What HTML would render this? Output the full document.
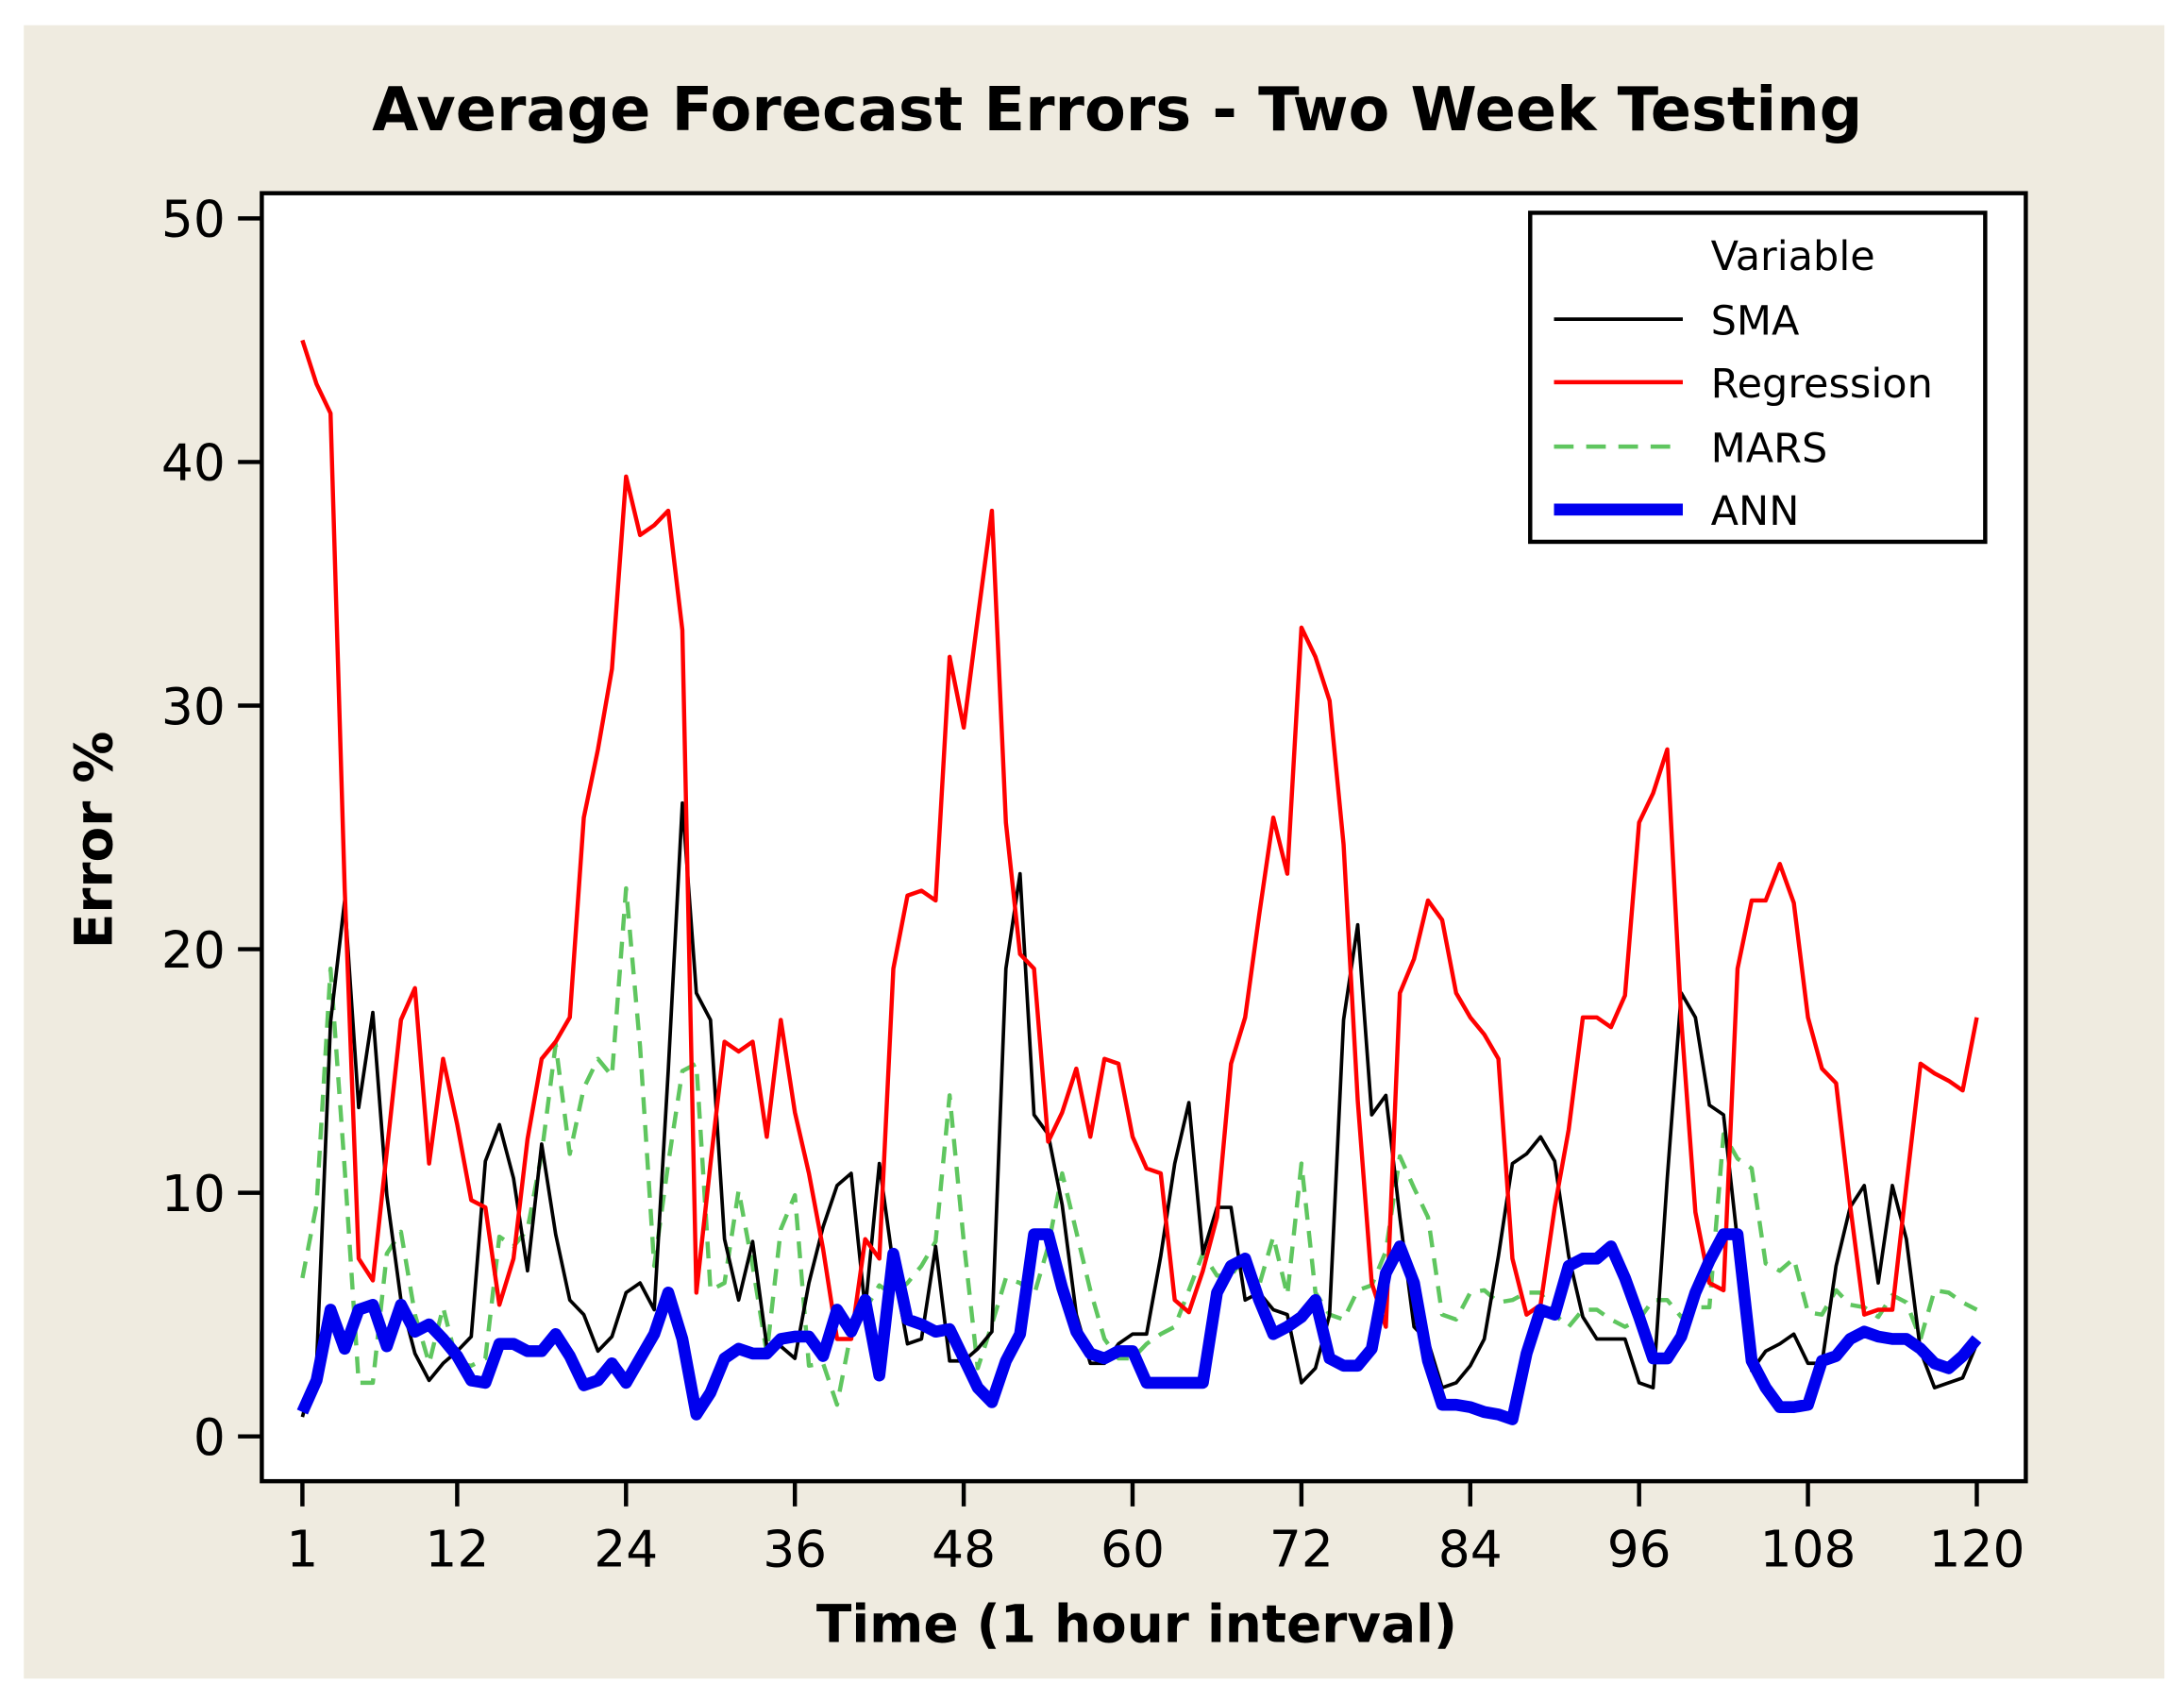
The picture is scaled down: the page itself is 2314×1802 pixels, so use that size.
<!DOCTYPE html>
<html><head><meta charset="utf-8"><style>
html,body{margin:0;padding:0;background:#fff;}
svg{display:block;}
text{font-family:"DejaVu Sans","Liberation Sans",sans-serif;fill:#000;}
</style></head><body>
<svg id="chart" width="2314" height="1802" viewBox="0 0 1560 1215" preserveAspectRatio="none" xmlns="http://www.w3.org/2000/svg">
<rect x="17" y="18" width="1529" height="1181" fill="#efebe0"/>
<text x="798" y="93" font-size="43" font-weight="bold" text-anchor="middle">Average Forecast Errors - Two Week Testing</text>
<rect x="187" y="138" width="1260" height="920" fill="#fff" stroke="#000" stroke-width="3"/>
<g id="yaxis"></g>
<g id="xaxis"></g>
<g id="series"></g>
<text transform="translate(80,600) rotate(-90)" font-size="37" font-weight="bold" text-anchor="middle">Error %</text>
<text x="812" y="1173" font-size="37" font-weight="bold" text-anchor="middle">Time (1 hour interval)</text>
<g>
<rect x="1093" y="152" width="325" height="235" fill="#fff" stroke="#000" stroke-width="3"/>
<text x="1222" y="193" font-size="29">Variable</text>
<line x1="1110" y1="228" x2="1202" y2="228" stroke="#000" stroke-width="2.5"/>
<text x="1222" y="239" font-size="29">SMA</text>
<line x1="1110" y1="273" x2="1202" y2="273" stroke="#f00" stroke-width="3"/>
<text x="1222" y="284" font-size="29">Regression</text>
<line x1="1110" y1="319" x2="1202" y2="319" stroke="#5fc65f" stroke-width="3" stroke-dasharray="14,9"/>
<text x="1222" y="330" font-size="29">MARS</text>
<line x1="1110" y1="364" x2="1202" y2="364" stroke="#0000ee" stroke-width="8.5"/>
<text x="1222" y="375" font-size="29">ANN</text>
</g>
</svg>
<script>
const yTicks=[0,10,20,30,40,50];
const xTicks=[1,12,24,36,48,60,72,84,96,108,120];
const sma=[0.8,2.9,17,22,13.5,17.4,9.9,5.6,3.4,2.3,3,3.5,4.1,11.3,12.8,10.6,6.8,12,8.3,5.6,5,3.5,4.1,5.9,6.3,5.2,15,26,18.2,17.1,8.1,5.6,8,3.7,3.7,3.2,6.3,8.6,10.3,10.8,5.2,11.2,7,3.8,4,7.8,3.1,3.1,3.6,4.3,19.2,23.1,13.2,12.4,9.5,5,3,3,3.8,4.2,4.2,7.4,11.2,13.7,7.5,9.4,9.4,5.6,5.9,5.2,5,2.2,2.8,5,17.1,21,13.2,14,9,4.5,3.9,2,2.2,2.9,4,7.4,11.2,11.6,12.3,11.3,7.4,4.9,4,4,4,2.2,2,10.6,18.2,17.2,13.6,13.2,8,2.7,3.5,3.8,4.2,3,3,7,9.4,10.3,6.3,10.3,8.1,3.5,2,2.2,2.4,3.8];
const regression=[45,43.2,42,22.5,7.3,6.4,11.7,17.1,18.4,11.2,15.5,12.8,9.7,9.4,5.4,7.3,12.2,15.5,16.2,17.2,25.4,28.2,31.5,39.4,37,37.4,38,33.1,5.9,11.2,16.2,15.8,16.2,12.3,17.1,13.3,10.8,7.7,4,4,8.1,7.3,19.2,22.2,22.4,22,32,29.1,33.6,38,25.2,19.8,19.2,12.1,13.3,15.1,12.3,15.5,15.3,12.3,11,10.8,5.6,5.1,6.8,9,15.3,17.2,21.4,25.4,23.1,33.2,32,30.2,24.3,13.8,6.3,4.5,18.2,19.6,22,21.2,18.2,17.2,16.5,15.5,7.3,5,5.4,9.4,12.6,17.2,17.2,16.8,18.1,25.2,26.4,28.2,17.1,9.2,6.3,6,19.2,22,22,23.5,21.9,17.2,15.1,14.5,9.5,5,5.2,5.2,10.3,15.3,14.9,14.6,14.2,17.2];
const mars=[6.5,9.5,19.2,11,2.2,2.2,7.5,8.4,5,3,5.3,3,2.9,3.2,8.2,7.8,8.5,11.6,16.1,11.6,14.3,15.5,14.8,22.5,16,7,11.2,15,15.3,6,6.3,10.1,7,3.4,8.5,9.9,2.9,3,1.3,4.3,5.2,6.2,5.8,6.3,7,8,14,8,2.8,4.6,6.5,6.3,5.8,7.8,10.8,8.4,6,4,3.2,3.2,3.8,4.2,4.5,6,7.5,6.6,6.6,7.4,6.2,8.2,5.8,11.2,5.9,5,4.8,6,6.2,7.6,11.5,10.2,9,5,4.8,5.9,6,5.5,5.6,5.9,5.9,5,4.5,5.2,5.2,4.8,4.5,4.8,5.6,5.6,4.9,5.3,5.3,12.4,11.4,11,7.1,6.8,7.3,5.1,5,6,5.4,5.3,4.9,5.8,5.5,4,6,5.9,5.5,5.2];
const ann=[1,2.3,5.2,3.6,5.2,5.4,3.7,5.4,4.3,4.6,4,3.3,2.3,2.2,3.8,3.8,3.5,3.5,4.2,3.3,2.1,2.3,3,2.2,3.2,4.2,5.9,4,0.9,1.8,3.2,3.6,3.4,3.4,4,4.1,4.1,3.3,5.2,4.3,5.6,2.5,7.5,4.8,4.6,4.3,4.4,3.2,2,1.4,3.1,4.2,8.3,8.3,6.1,4.3,3.4,3.2,3.5,3.5,2.2,2.2,2.2,2.2,2.2,5.9,7,7.3,5.6,4.2,4.5,4.9,5.6,3.2,2.9,2.9,3.6,6.7,7.8,6.3,3.1,1.3,1.3,1.2,1,0.9,0.7,3.4,5.2,5,7,7.3,7.3,7.8,6.5,4.9,3.2,3.2,4.1,5.9,7.2,8.3,8.3,3.1,2,1.2,1.2,1.3,3.1,3.3,4,4.3,4.1,4,4,3.6,3,2.8,3.3,4];

const NS="http://www.w3.org/2000/svg";
function xScale(t){return 216+(t-1)*(1412-216)/119;}
function yScale(v){return 1026-v*(1026-156)/50;}
function mk(tag,attrs,parent){const e=document.createElementNS(NS,tag);for(const k in attrs)e.setAttribute(k,attrs[k]);parent.appendChild(e);return e;}
const ya=document.getElementById('yaxis'),xa=document.getElementById('xaxis'),sg=document.getElementById('series');
yTicks.forEach(v=>{
  const l=mk('line',{x1:170,x2:187,y1:yScale(v),y2:yScale(v),stroke:'#000','stroke-width':3},ya);
  
  
  const t=mk('text',{x:161,y:yScale(v)+13,'font-size':36,'text-anchor':'end'},ya);
  t.textContent=v;
  
  
});
xTicks.forEach(v=>{
  const l=mk('line',{x1:xScale(v),x2:xScale(v),y1:1058,y2:1076,stroke:'#000','stroke-width':3},xa);
  
  
  const t=mk('text',{x:xScale(v),y:1119,'font-size':36,'text-anchor':'middle'},xa);
  t.textContent=v;
  
  
});
function pts(arr){return arr.map((v,i)=>xScale(i+1).toFixed(1)+','+yScale(v).toFixed(1)).join(' ');}
const s1=mk('polyline',{points:pts(mars),fill:'none',stroke:'#5fc65f','stroke-width':3,'stroke-dasharray':'12,8','stroke-linejoin':'round'},sg);


const s2=mk('polyline',{points:pts(sma),fill:'none',stroke:'#000','stroke-width':2.5,'stroke-linejoin':'round'},sg);


const s3=mk('polyline',{points:pts(regression),fill:'none',stroke:'#f00','stroke-width':3,'stroke-linejoin':'round'},sg);


const s4=mk('polyline',{points:pts(ann),fill:'none',stroke:'#0000ee','stroke-width':8.5,'stroke-linejoin':'round'},sg);


</script>
</body></html>
